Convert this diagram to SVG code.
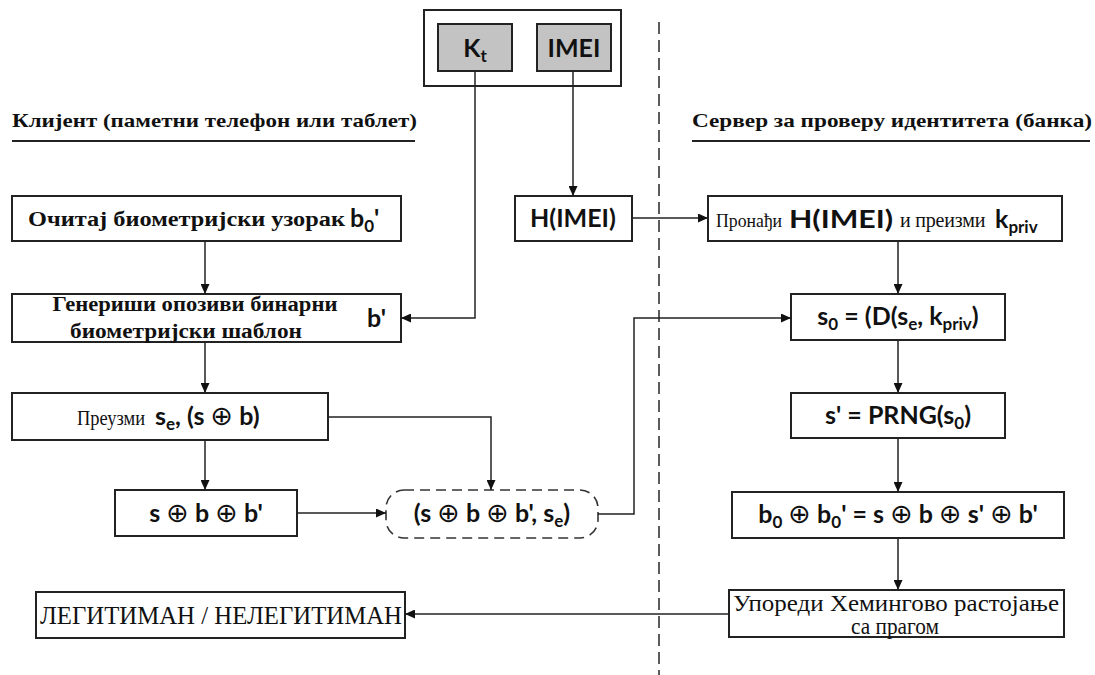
<svg xmlns="http://www.w3.org/2000/svg" width="1095" height="675" viewBox="0 0 1095 675">
  <defs>
    <marker id="arr" viewBox="0 0 10 10" refX="10" refY="5" markerWidth="10" markerHeight="9" markerUnits="userSpaceOnUse" orient="auto" preserveAspectRatio="none">
      <path d="M0,0 L10,5 L0,10 z" fill="#111"/>
    </marker>
    <style>
      .box{fill:#fff;stroke:#222;stroke-width:2}
      .grey{fill:#c3c3c3;stroke:#222;stroke-width:2}
      .dash{fill:#fff;stroke:#333;stroke-width:1.6;stroke-dasharray:10 6}
      .arw{fill:none;stroke:#222;stroke-width:1.5;marker-end:url(#arr)}
      .sep{fill:none;stroke:#333;stroke-width:1.6;stroke-dasharray:12 6}
      .rule{stroke:#222;stroke-width:2}
      .sf{font-family:"Liberation Serif","DejaVu Serif",serif;font-weight:bold;fill:#111}
      .sr{font-family:"Liberation Serif","DejaVu Serif",serif;fill:#111}
      .ss{font-family:Lato,"DejaVu Sans",sans-serif;font-weight:bold;font-size:25px;fill:#111}
      .sub{font-size:17px}
      .op{font-family:"DejaVu Sans",sans-serif;font-weight:normal;font-size:27px}
    </style>
  </defs>

  <!-- column divider -->
  <line class="sep" x1="659" y1="22" x2="659" y2="675"/>

  <!-- column headers -->
  <g id="header-client">
    <text class="sf" x="12" y="127" font-size="19" textLength="405" lengthAdjust="spacingAndGlyphs">Клијент (паметни телефон или таблет)</text>
    <line class="rule" x1="12" y1="141" x2="415" y2="141"/>
  </g>
  <g id="header-server">
    <text class="sf" x="692" y="127" font-size="19" textLength="400" lengthAdjust="spacingAndGlyphs">Сервер за проверу идентитета (банка)</text>
    <line class="rule" x1="692" y1="141" x2="1090" y2="141"/>
  </g>

  <!-- device data -->
  <g id="device">
    <rect class="box" x="424" y="10" width="197" height="76"/>
  </g>
  <g id="kt">
    <rect class="grey" x="438" y="24" width="74" height="47"/>
    <text class="ss" x="475" y="57" text-anchor="middle">K<tspan class="sub" dy="5">t</tspan></text>
  </g>
  <g id="imei">
    <rect class="grey" x="537" y="24" width="74" height="47"/>
    <text class="ss" x="574" y="57" text-anchor="middle">IMEI</text>
  </g>

  <!-- client side -->
  <g id="read-sample">
    <rect class="box" x="12" y="196" width="389" height="45"/>
    <text class="sf" x="28" y="226" font-size="20" textLength="317" lengthAdjust="spacingAndGlyphs">Очитај биометријски узорак</text>
    <text class="ss" x="350" y="227">b<tspan class="sub" dy="5">0</tspan><tspan dy="-5">'</tspan></text>
  </g>
  <g id="gen-template">
    <rect class="box" x="12" y="294" width="389" height="48"/>
    <text class="sf" x="195" y="311" font-size="20" text-anchor="middle" textLength="285" lengthAdjust="spacingAndGlyphs">Генериши опозиви бинарни</text>
    <text class="sf" x="186" y="338" font-size="20" text-anchor="middle" textLength="232" lengthAdjust="spacingAndGlyphs">биометријски шаблон</text>
    <text class="ss" x="367" y="327">b'</text>
  </g>
  <g id="fetch">
    <rect class="box" x="12" y="393" width="316" height="47"/>
    <text class="sr" x="77" y="425" font-size="21" textLength="68" lengthAdjust="spacingAndGlyphs">Преузми</text>
    <text class="ss" x="155" y="425">s<tspan class="sub" dy="5">e</tspan><tspan dy="-5">, (s </tspan><tspan class="op">⊕</tspan><tspan> b)</tspan></text>
  </g>
  <g id="xor-local">
    <rect class="box" x="115" y="490" width="182" height="46"/>
    <text class="ss" x="206" y="522" text-anchor="middle">s <tspan class="op">⊕</tspan> b <tspan class="op">⊕</tspan> b'</text>
  </g>
  <g id="message">
    <rect class="dash" x="386" y="490" width="212" height="48" rx="18" ry="18"/>
    <text class="ss" x="492" y="522" text-anchor="middle">(s <tspan class="op">⊕</tspan> b <tspan class="op">⊕</tspan> b', s<tspan class="sub" dy="5">e</tspan><tspan dy="-5">)</tspan></text>
  </g>
  <g id="hash-imei">
    <rect class="box" x="515" y="196" width="117" height="45"/>
    <text class="ss" x="573" y="227" text-anchor="middle">H(IMEI)</text>
  </g>
  <g id="verdict">
    <rect class="box" x="36" y="592" width="369" height="46"/>
    <text class="sr" x="40" y="624" font-size="25" textLength="362" lengthAdjust="spacingAndGlyphs">ЛЕГИТИМАН / НЕЛЕГИТИМАН</text>
  </g>

  <!-- server side -->
  <g id="lookup">
    <rect class="box" x="708" y="196" width="354" height="45"/>
    <text class="sr" x="716" y="227" font-size="19" textLength="66" lengthAdjust="spacingAndGlyphs">Пронађи</text>
    <text class="ss" x="789" y="228" font-size="28" textLength="104" lengthAdjust="spacingAndGlyphs">H(IMEI)</text>
    <text class="sr" x="900" y="227" font-size="20" letter-spacing="-0.2">и преизми</text>
    <text class="ss" x="995" y="228">k<tspan class="sub" dy="5">priv</tspan></text>
  </g>
  <g id="decrypt">
    <rect class="box" x="791" y="294" width="214" height="46"/>
    <text class="ss" x="898" y="325" text-anchor="middle">s<tspan class="sub" dy="5">0</tspan><tspan dy="-5"> = (D(s</tspan><tspan class="sub" dy="5">e</tspan><tspan dy="-5">, k</tspan><tspan class="sub" dy="5">priv</tspan><tspan dy="-5">)</tspan></text>
  </g>
  <g id="prng">
    <rect class="box" x="791" y="393" width="214" height="45"/>
    <text class="ss" x="898" y="424" text-anchor="middle">s' = PRNG(s<tspan class="sub" dy="5">0</tspan><tspan dy="-5">)</tspan></text>
  </g>
  <g id="xor-server">
    <rect class="box" x="732" y="492" width="332" height="46"/>
    <text class="ss" x="898" y="523" text-anchor="middle">b<tspan class="sub" dy="5">0</tspan><tspan dy="-5"> </tspan><tspan class="op">⊕</tspan><tspan> b</tspan><tspan class="sub" dy="5">0</tspan><tspan dy="-5">' = s </tspan><tspan class="op">⊕</tspan><tspan> b </tspan><tspan class="op">⊕</tspan><tspan> s' </tspan><tspan class="op">⊕</tspan><tspan> b'</tspan></text>
  </g>
  <g id="hamming">
    <rect class="box" x="729" y="590" width="335" height="47"/>
    <text class="sr" x="896" y="611" font-size="23" text-anchor="middle" textLength="326" lengthAdjust="spacingAndGlyphs">Упореди Хемингово растојање</text>
    <text class="sr" x="895" y="634" font-size="23" text-anchor="middle" textLength="88" lengthAdjust="spacingAndGlyphs">са прагом</text>
  </g>

  <!-- connectors -->
  <g id="connectors">
    <path class="arw" d="M475,71 V318 H401"/>
    <path class="arw" d="M573,71 V196"/>
    <path class="arw" d="M205,241 V294"/>
    <path class="arw" d="M205,342 V393"/>
    <path class="arw" d="M205,440 V490"/>
    <path class="arw" d="M328,417 H491 V490"/>
    <path class="arw" d="M297,513 H386"/>
    <path class="arw" d="M598,514 H634 V318 H791"/>
    <path class="arw" d="M632,218 H708"/>
    <path class="arw" d="M898,241 V294"/>
    <path class="arw" d="M898,340 V393"/>
    <path class="arw" d="M898,438 V492"/>
    <path class="arw" d="M898,538 V590"/>
    <path class="arw" d="M729,614 H405"/>
  </g>
</svg>
